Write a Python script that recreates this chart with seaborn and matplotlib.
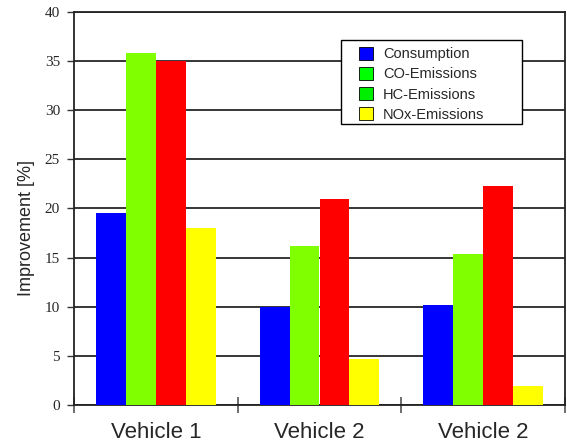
import matplotlib
matplotlib.use("Agg")
import matplotlib.pyplot as plt
from matplotlib.patches import Patch, Rectangle
import pandas as pd
import seaborn as sns

# Data
vehicles = ["Vehicle 1", "Vehicle 2", "Vehicle 2 "]
vehicle_labels = ["Vehicle 1", "Vehicle 2", "Vehicle 2"]
measures = ["Consumption", "CO-Emissions", "HC-Emissions", "NOx-Emissions"]
consumption = [19.5, 10.0, 10.2]
co_emissions = [35.8, 16.2, 15.4]
hc_emissions = [35.0, 21.0, 22.3]
nox_emissions = [18.0, 4.7, 1.9]

bar_colors = ["#0000FF", "#80FF00", "#FF0000", "#FFFF00"]
legend_colors = ["#0000FF", "#00FF00", "#00EE00", "#FFFF00"]
y_ticks = [0, 5, 10, 15, 20, 25, 30, 35, 40]

rows = []
for m, vals in zip(measures, [consumption, co_emissions, hc_emissions, nox_emissions]):
    for v, val in zip(vehicles, vals):
        rows.append({"vehicle": v, "measure": m, "value": val})
df = pd.DataFrame(rows)

sns.set_theme(style="white")
plt.rcParams["font.family"] = ["Liberation Sans", "DejaVu Sans"]

fig = plt.figure(figsize=(5.67, 4.45), dpi=100)
ax = fig.add_axes([74 / 567, 1 - 405 / 445, (565 - 74) / 567, (405 - 12) / 445])

sns.barplot(data=df, x="vehicle", y="value", hue="measure", order=vehicles,
            hue_order=measures, palette=bar_colors, width=0.73, gap=0,
            saturation=1, linewidth=0, legend=False, ax=ax, zorder=3)

ax.set_xlim(-0.5, 2.5)
ax.set_ylim(0, 40)
ax.set_yticks(y_ticks)
ax.set_yticklabels([str(t) for t in y_ticks], fontfamily="Liberation Serif", fontsize=11)
ax.set_xticks([0, 1, 2])
ax.set_xticklabels(vehicle_labels, fontsize=16)
ax.set_xticks([-0.5, 0.5, 1.5, 2.5], minor=True)
ax.tick_params(axis="x", which="major", bottom=True, length=0, pad=12)
ax.tick_params(axis="x", which="minor", bottom=True, direction="inout", length=12,
               width=1.2, color="#555555")
ax.tick_params(axis="y", which="major", direction="out", length=5, width=1, color="#333333",
               left=True, pad=5)
ax.set_xlabel("")
ax.set_ylabel("Improvement [%]", fontsize=13)
ax.yaxis.set_label_coords(-0.08, 0.45)

ax.yaxis.grid(True, color="black", linewidth=1.1, zorder=0)
ax.set_axisbelow(True)
for side in ["left", "right", "top", "bottom"]:
    ax.spines[side].set_visible(True)
    ax.spines[side].set_color("#222222")
    ax.spines[side].set_linewidth(1.3)

# Legend box
box = Rectangle((341 / 567, 1 - 124 / 445), (522 - 341) / 567, (124 - 40) / 445,
                transform=fig.transFigure, facecolor="white", edgecolor="black",
                linewidth=1.0, zorder=5)
ax.add_patch(box)
handles = [Patch(facecolor=c, edgecolor="black", linewidth=0.6) for c in legend_colors]
leg = ax.legend(handles, measures, loc="upper left",
                bbox_to_anchor=(359 / 567, 1 - 47 / 445), bbox_transform=fig.transFigure,
                frameon=False, fontsize=10.5, borderpad=0, borderaxespad=0,
                handlelength=0.95, handleheight=0.95, handletextpad=0.7,
                labelspacing=0.4)
leg.set_zorder(6)

fig.savefig("out.png", dpi=100)
